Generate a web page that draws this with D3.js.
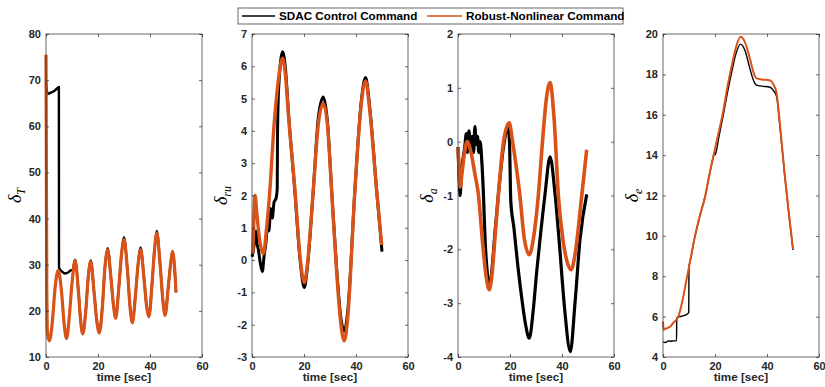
<!DOCTYPE html>
<html>
<head>
<meta charset="utf-8">
<script src="https://cdn.jsdelivr.net/npm/d3@7"></script>
<style>
  body { margin: 0; background: #fff; }
  text { font-family: "Liberation Sans", Arial, sans-serif; }
</style>
</head>
<body>
<div id="chart"></div>
<script>
let width = 825,
    height = 387;

// legend names
const seriesNames = ["SDAC Control Command", "Robust-Nonlinear Command"];
const xTicks = [0, 20, 40, 60];

// [time, value]
const thrustSdac = [[0,69.7],[0.3,68],[0.6,67],[1.5,67.2],[3,67.6],[4.5,68.3],[4.95,68.5],[5.0,29.4],[6,28.6],[7.3,28.1],[8.5,28.3],[9.6,28.8],[10.2,28.8],
  [11.2,31.1],[12.5,24],[13.3,18],[14.1,15],[15.3,20],[16.2,27],[17.2,30.9],[18.5,24],[19.5,18],[20.5,15.4],[21.7,21],[22.6,29],[23.7,33.6],
  [25,27],[26,21],[26.8,18.6],[28,25],[29,32],[30,35.9],[31.3,29],[32.3,21],[33.2,17.6],[34.5,24],[35.4,30],[36.4,33.7],[37.7,27],[38.7,21],
  [39.6,18.9],[40.8,26],[41.7,33],[42.6,37.3],[43.9,30],[45,22],[45.8,19.2],[47,25],[47.9,30],[48.7,33],[49.5,29],[50,24]];
const thrustRobust = [[0,75.5],[0.1,60],[0.3,25],[0.6,15],[1.3,13.5],[2.5,18],[3.5,25],[4.7,28.8],[6,24],[7,17],[7.9,14],[9,19],[10,26],
  [11.2,30.9],[12.5,24],[13.3,18],[14.1,15],[15.3,20],[16.2,27],[17.2,30.7],[18.5,24],[19.5,18],[20.5,15.2],[21.7,21],[22.6,29],[23.7,33.2],
  [25,27],[26,21],[26.8,18.4],[28,25],[29,32],[30,35.5],[31.3,29],[32.3,21],[33.2,17.4],[34.5,24],[35.4,30],[36.4,33.3],[37.7,27],[38.7,21],
  [39.6,18.7],[40.8,26],[41.7,33],[42.6,36.9],[43.9,30],[45,22],[45.8,19],[47,25],[47.9,30],[48.7,32.8],[49.5,29],[50,24]];

const rudderSdac = [[0,0.1],[0.5,0.3],[1.0,0.6],[1.5,0.9],[2.0,0.5],[2.5,0.3],[3.2,-0.1],[4.0,-0.35],[4.6,0.1],[5.3,0.5],[6.0,1.1],[6.5,0.9],
  [7.2,1.6],[7.8,1.3],[8.5,1.8],[9.2,1.9],[9.7,2.2],[9.8,3.8],[10.3,5.4],[11.8,6.45],[13,5.8],[14,4.6],[16.5,2.1],[18.5,0.0],[20.1,-0.85],
  [21.2,-0.3],[23.6,2.2],[25.5,4.4],[27.4,5.05],[29,4.3],[30.6,2.2],[32.5,-0.2],[34.2,-1.8],[35.5,-2.2],[36.8,-1.6],[39.6,2.2],[42,4.9],
  [43.7,5.65],[45.2,4.8],[48,2.1],[50,0.26]];
const rudderRobust = [[0.3,0.2],[0.7,1.2],[1.2,2.0],[1.8,1.5],[2.8,0.7],[4.4,0.2],[5.5,0.9],[6.9,2.2],[8.5,4.2],[9.5,5.1],[10.5,5.8],
  [11.8,6.25],[13,5.6],[14,4.5],[16.5,2.2],[18.5,0.1],[20.1,-0.7],[21.2,-0.2],[23.6,2.2],[25.5,4.2],[27.4,4.85],[29,4.2],[30.6,2.2],
  [32.5,-0.3],[34.2,-2.0],[35.5,-2.5],[36.8,-1.8],[39.6,2.2],[42,4.8],[43.7,5.55],[45.2,4.7],[48,2.1],[49.9,0.47]];

const aileronSdac = [[0,-0.1],[0.4,-0.6],[0.8,-1.0],[1.3,-0.6],[2.0,-0.3],[2.6,-0.1],[3.2,0.15],[3.6,-0.2],[4.2,0.2],[4.8,-0.1],[5.4,0.1],
  [6.0,-0.2],[6.5,0.28],[7.0,-0.05],[7.5,0.1],[8.0,-0.2],[8.5,0.0],[9.2,-0.4],[9.8,-1.0],[10.4,-1.8],[11.2,-2.4],[12,-2.72],[13,-2.4],
  [14.2,-1.7],[15.5,-1.0],[17.5,-0.1],[19.3,0.25],[19.8,0.0],[20.3,-1.1],[21.5,-1.6],[23,-2.3],[24.5,-2.9],[26,-3.4],[27.4,-3.65],[29,-3.1],
  [30.3,-2.4],[32,-1.6],[33.5,-0.96],[35.4,-0.28],[37.3,-0.96],[39,-1.9],[41,-3.1],[43.2,-3.9],[45,-3.0],[46.9,-1.83],[49.5,-0.98]];
const aileronRobust = [[0,-0.1],[0.4,-0.5],[0.8,-0.84],[1.5,-0.6],[2.5,-0.2],[3.5,0.0],[5,-0.2],[6.5,-0.6],[7.8,-0.96],[9.5,-1.9],
  [10.8,-2.5],[12,-2.75],[13,-2.5],[14.2,-1.8],[15.5,-1.0],[17.5,0.0],[19.7,0.35],[21,0.0],[22.5,-0.5],[23.8,-1.0],[25.5,-1.8],[27.4,-2.1],
  [29,-1.8],[30.9,-1.0],[32.5,0.0],[34,0.8],[35.4,1.1],[37,0.4],[38.6,-1.0],[40.3,-1.8],[41.8,-2.2],[43.5,-2.38],[45,-2.1],[47.6,-1.0],
  [49.5,-0.15]];

const elevatorSdac = [[0,4.75],[1,4.72],[2,4.8],[3,4.78],[4,4.8],[5.2,4.8],[5.3,5.95],[6.5,6.0],[8,6.05],[9,6.1],[9.9,6.2],[10.0,8.5],
  [10.4,8.72],[12,9.8],[14.2,11.0],[16.2,11.95],[17.8,13.0],[19.3,13.9],[19.9,14.2],[20,14.0],[21.5,14.9],[23.2,16.0],[24.8,17.1],
  [26.4,18.1],[28,19.0],[29.8,19.5],[31.5,19.2],[33.4,18.3],[34.8,17.7],[36,17.47],[38,17.42],[41.2,17.36],[42.5,17.2],[43.7,16.9],
  [45,15.4],[46.9,12.9],[48.5,11.0],[50,9.3]];
const elevatorRobust = [[0,5.75],[0.3,5.35],[1,5.4],[2.7,5.5],[4,5.7],[5.9,6.0],[7.5,6.8],[9,7.8],[10.4,8.72],[12,9.8],[14.2,11.0],
  [16.2,11.95],[17.8,13.0],[19.3,13.9],[21,14.9],[23.2,16.2],[24.8,17.4],[26.4,18.4],[28,19.3],[29.8,19.86],[31.5,19.6],[33.4,18.8],
  [34.8,18.1],[36,17.8],[38,17.75],[41.2,17.7],[42.5,17.5],[43.7,17.06],[45,15.5],[46.9,12.9],[48.5,11.0],[50,9.35]];

const panels = [
  { left: 46,  sym: "T",  yDomain: [10, 80], yTicks: d3.range(10, 81, 10), sdac: thrustSdac,   robust: thrustRobust,   w: [2.4, 3.2] },
  { left: 252, sym: "ru", yDomain: [-3, 7],  yTicks: d3.range(-3, 8, 1),   sdac: rudderSdac,   robust: rudderRobust,   w: [3, 3.4] },
  { left: 458, sym: "a",  yDomain: [-4, 2],  yTicks: d3.range(-4, 3, 1),   sdac: aileronSdac,  robust: aileronRobust,  w: [3.2, 3.6] },
  { left: 663, sym: "e",  yDomain: [4, 20],  yTicks: d3.range(4, 21, 2),   sdac: elevatorSdac, robust: elevatorRobust, w: [1.4, 2] }
];

const pw = 156, plotTop = 34, plotBottom = 357;
const black = "#000000", orange = "#D95319", axisColor = "#262626";
const fmt = d => String(d); // plain hyphen minus, no decimals

const svg = d3.select("#chart")
  .append("svg")
  .attr("width", width)
  .attr("height", height);

panels.forEach(p => {
  let x = d3.scaleLinear().domain([0, 60]).range([p.left, p.left + pw]);
  let y = d3.scaleLinear().domain(p.yDomain).range([plotBottom, plotTop]);

  let line = d3.line()
    .x(d => x(d[0]))
    .y(d => y(d[1]))
    .curve(d3.curveMonotoneX);

  svg.append("path")
    .datum(p.sdac)
    .attr("fill", "none")
    .attr("stroke", black)
    .attr("stroke-width", p.w[0])
    .attr("stroke-linejoin", "round")
    .attr("d", line);

  svg.append("path")
    .datum(p.robust)
    .attr("fill", "none")
    .attr("stroke", orange)
    .attr("stroke-width", p.w[1])
    .attr("stroke-linejoin", "round")
    .attr("d", line);

  // ticks on all four sides, pointing inward (matlab box)
  const styleAxis = g => {
    g.select(".domain").remove();
    g.selectAll(".tick line").attr("stroke", axisColor).attr("stroke-width", 0.7);
    g.selectAll("text")
      .attr("fill", axisColor)
      .style("font-size", "11px")
      .style("font-weight", "bold")
      .style("font-family", '"Liberation Sans", Arial, sans-serif');
  };

  svg.append("g")
    .attr("transform", `translate(0,${plotBottom})`)
    .call(d3.axisBottom(x).tickValues(xTicks).tickFormat(fmt).tickSize(-3).tickPadding(5))
    .call(styleAxis);
  svg.append("g")
    .attr("transform", `translate(0,${plotTop})`)
    .call(d3.axisTop(x).tickValues(xTicks).tickSize(-3).tickFormat(""))
    .call(styleAxis);
  svg.append("g")
    .attr("transform", `translate(${p.left},0)`)
    .call(d3.axisLeft(y).tickValues(p.yTicks).tickFormat(fmt).tickSize(-3).tickPadding(5))
    .call(styleAxis);
  svg.append("g")
    .attr("transform", `translate(${p.left + pw},0)`)
    .call(d3.axisRight(y).tickValues(p.yTicks).tickSize(-3).tickFormat(""))
    .call(styleAxis);

  svg.append("rect")
    .attr("x", p.left)
    .attr("y", plotTop)
    .attr("width", pw)
    .attr("height", plotBottom - plotTop)
    .attr("fill", "none")
    .attr("stroke", axisColor)
    .attr("stroke-width", 0.7);

  svg.append("text")
    .attr("x", p.left + pw / 2)
    .attr("y", 381)
    .attr("text-anchor", "middle")
    .attr("fill", axisColor)
    .style("font-size", "11.7px")
    .style("font-weight", "bold")
    .text("time [sec]");

  // y label, latex style delta with subscript
  let yl = svg.append("text")
    .attr("transform", `translate(${p.left - 25},${(plotTop + plotBottom) / 2}) rotate(-90)`)
    .attr("text-anchor", "middle")
    .attr("fill", "#000")
    .style("font-family", '"Liberation Serif", "DejaVu Serif", serif')
    .style("font-style", "italic");
  yl.append("tspan").style("font-size", "18px").text("δ");
  yl.append("tspan").style("font-size", "12px").attr("dy", 4).text(p.sym);
});

// legend
const legend = svg.append("g");
legend.append("rect")
  .attr("x", 238).attr("y", 8)
  .attr("width", 385).attr("height", 16)
  .attr("fill", "#fff")
  .attr("stroke", axisColor)
  .attr("stroke-width", 0.7);

const legendItems = [
  { name: seriesNames[0], color: black,  x0: 242, x1: 275 },
  { name: seriesNames[1], color: orange, x0: 427, x1: 462 }
];
legendItems.forEach(d => {
  legend.append("line")
    .attr("x1", d.x0).attr("x2", d.x1)
    .attr("y1", 16).attr("y2", 16)
    .attr("stroke", d.color)
    .attr("stroke-width", 1.5);
  legend.append("text")
    .attr("x", d.x1 + 4)
    .attr("y", 20.2)
    .attr("fill", "#000")
    .style("font-size", "11.7px")
    .style("font-weight", "bold")
    .text(d.name);
});
</script>
</body>
</html>
